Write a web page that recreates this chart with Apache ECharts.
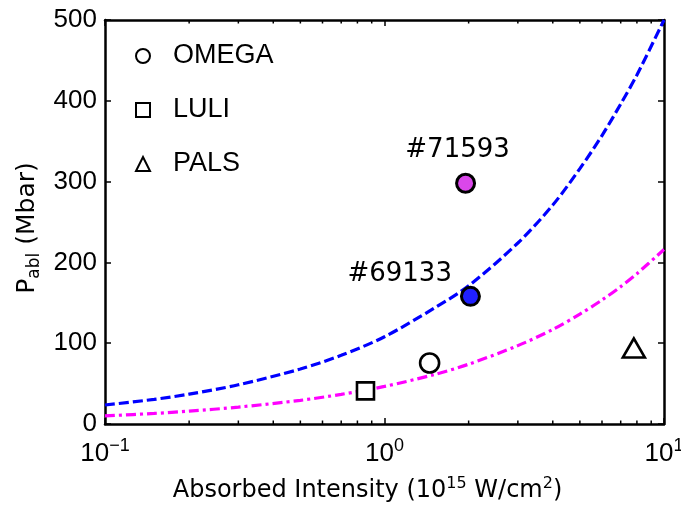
<!DOCTYPE html>
<html><head><meta charset="utf-8">
<script src="https://cdn.jsdelivr.net/npm/echarts@6/dist/echarts.min.js"></script>
<style>html,body{margin:0;padding:0;background:#fff}#c{width:681px;height:507px}</style>
</head><body><div id="c"></div>
<script>
// ---- data ----
const curveIntensity = [0.1, 0.15, 0.2, 0.3, 0.5, 0.7, 1, 1.5, 2, 3, 4, 5, 6, 7, 8, 10];
const bluePressure = [23.5, 30.5, 37, 48.5, 68, 85, 108, 143, 171, 224, 271, 316, 357, 396, 432, 500];
const magentaPressure = [10, 13.1, 15.9, 20.9, 29.3, 36.7, 46.5, 61, 74, 97, 117, 136, 153.5, 170, 186, 216];
const omegaPoints = [[1.45, 75.5]];
const luliPoints = [[0.855, 41]];
const palsPoints = [[7.8, 94]];
const shot71593 = [[1.95, 298]];
const shot69133 = [[2.03, 158]];
const shotNames = ['#71593', '#69133'];
const legendNames = ['OMEGA', 'LULI', 'PALS'];
const xMinorTicks = [0.2, 0.3, 0.4, 0.5, 0.6, 0.7, 0.8, 0.9, 2, 3, 4, 5, 6, 7, 8, 9];

const zip = (xs, ys) => xs.map((x, i) => [x, ys[i]]);
const chart = echarts.init(document.getElementById('c'), null, {renderer: 'canvas'});
const axisLine = {show: true, onZero: false, lineStyle: {color: '#000', width: 2.5}};
const majorTick = {show: true, inside: true, length: 6, lineStyle: {color: '#000', width: 1.5}};
const tickFont = 'Liberation Sans';
const nameFont = 'DejaVu Sans';
const hollow = {color: '#fff', borderColor: '#000', borderWidth: 2.6, opacity: 1};

chart.setOption({
  animation: false,
  backgroundColor: '#fff',
  grid: {left: 105, right: 17, top: 20, bottom: 83, outerBoundsMode: 'none', containLabel: false},
  xAxis: [
    {
      type: 'log', logBase: 10, min: 0.1, max: 10, position: 'bottom',
      axisLine: axisLine, axisTick: majorTick, splitLine: {show: false}, minorTick: {show: false},
      axisLabel: {
        show: true, margin: 13, hideOverlap: false,
        formatter: v => '{b|10}{s|' + String(Math.round(Math.log10(v))).replace('-', '\u2212') + '}',
        rich: {
          b: {fontFamily: tickFont, fontSize: 26, color: '#000', lineHeight: 34, verticalAlign: 'middle'},
          s: {fontFamily: tickFont, fontSize: 18, color: '#000', lineHeight: 16, verticalAlign: 'top'}
        }
      },
      name: 'Absorbed Intensity (10{s|15} W/cm{s|2})',
      nameLocation: 'middle', nameGap: 52,
      nameTextStyle: {
        fontFamily: nameFont, fontSize: 24, color: '#000', lineHeight: 30, padding: [0, 34, 0, 0],
        rich: {s: {fontFamily: nameFont, fontSize: 16, color: '#000', lineHeight: 14, verticalAlign: 'top'}}
      }
    },
    {
      type: 'log', logBase: 10, min: 0.1, max: 10, position: 'top',
      axisLine: axisLine, axisTick: majorTick,
      axisLabel: {show: false}, splitLine: {show: false}
    }
  ],
  yAxis: [
    {
      type: 'value', min: 0, max: 500, interval: 100, position: 'left',
      axisLine: axisLine, axisTick: majorTick, splitLine: {show: false},
      axisLabel: {show: true, margin: 8, fontFamily: tickFont, fontSize: 26, color: '#000'},
      name: 'P{sub|abl} (Mbar)',
      nameLocation: 'middle', nameGap: 62,
      nameTextStyle: {
        fontFamily: nameFont, fontSize: 25, color: '#000', lineHeight: 30, padding: [0, 12, 0, 0],
        rich: {sub: {fontFamily: nameFont, fontSize: 17, color: '#000', lineHeight: 22, verticalAlign: 'bottom'}}
      }
    },
    {
      type: 'value', min: 0, max: 500, interval: 100, position: 'right',
      axisLine: axisLine, axisTick: majorTick,
      axisLabel: {show: false}, splitLine: {show: false}
    }
  ],
  legend: {
    show: true, orient: 'vertical', left: 130, top: 37,
    itemWidth: 14, itemHeight: 14, itemGap: 26,
    textStyle: {
      fontFamily: tickFont, fontSize: 27, color: '#000', lineHeight: 28,
      rich: {g: {width: 18}, t: {fontFamily: tickFont, fontSize: 27, color: '#000', lineHeight: 28}}
    },
    formatter: name => '{g|}{t|' + name + '}',
    data: [
      {name: legendNames[0], icon: 'circle', itemStyle: {color: '#fff', borderColor: '#000', borderWidth: 2, opacity: 1}},
      {name: legendNames[1], icon: 'rect', itemStyle: {color: '#fff', borderColor: '#000', borderWidth: 2, opacity: 1}},
      {name: legendNames[2], icon: 'triangle', itemStyle: {color: '#fff', borderColor: '#000', borderWidth: 2, opacity: 1}}
    ]
  },
  series: [
    {
      type: 'line', name: 'blue fit',
      data: zip(curveIntensity, bluePressure), showSymbol: false, smooth: 0.3, z: 2,
      lineStyle: {color: '#0000ff', width: 3.2, type: [10, 4]}
    },
    {
      type: 'line', name: 'magenta fit',
      data: zip(curveIntensity, magentaPressure), showSymbol: false, smooth: 0.3, z: 2,
      lineStyle: {color: '#ff00ff', width: 3.2, type: [10, 4, 3, 4]}
    },
    {
      type: 'custom', name: 'minor ticks', silent: true, clip: false, z: 10,
      data: xMinorTicks.map(v => [v, 0]),
      renderItem: (params, api) => {
        const x = api.coord([api.value(0), 0])[0];
        const cs = params.coordSys;
        const yb = cs.y + cs.height, yt = cs.y;
        return {type: 'group', children: [
          {type: 'line', shape: {x1: x, y1: yb, x2: x, y2: yb - 3.5}, style: {stroke: '#000', lineWidth: 1.5}},
          {type: 'line', shape: {x1: x, y1: yt, x2: x, y2: yt + 3.5}, style: {stroke: '#000', lineWidth: 1.5}}
        ]};
      }
    },
    {
      type: 'scatter', name: legendNames[0], data: omegaPoints, symbol: 'circle', symbolSize: 19, z: 5,
      itemStyle: hollow
    },
    {
      type: 'scatter', name: legendNames[1], data: luliPoints, symbol: 'rect', symbolSize: 17, z: 5,
      itemStyle: hollow
    },
    {
      type: 'scatter', name: legendNames[2], data: palsPoints, symbol: 'triangle', symbolSize: [22, 19], z: 5,
      itemStyle: hollow
    },
    {
      type: 'scatter', name: shotNames[0], data: shot71593, symbol: 'circle', symbolSize: 18, z: 6,
      itemStyle: {color: '#da47ea', borderColor: '#000', borderWidth: 3, opacity: 1},
      label: {show: true, position: 'top', distance: 9, offset: [-8, 0], formatter: shotNames[0],
               fontFamily: nameFont, fontSize: 26, color: '#000'}
    },
    {
      type: 'scatter', name: shotNames[1], data: shot69133, symbol: 'circle', symbolSize: 18, z: 6,
      itemStyle: {color: '#2020ff', borderColor: '#000', borderWidth: 3, opacity: 1},
      label: {show: true, position: 'left', distance: 8, offset: [0, -22], formatter: shotNames[1],
               fontFamily: nameFont, fontSize: 26, color: '#000'}
    }
  ]
});
</script>
</body></html>
